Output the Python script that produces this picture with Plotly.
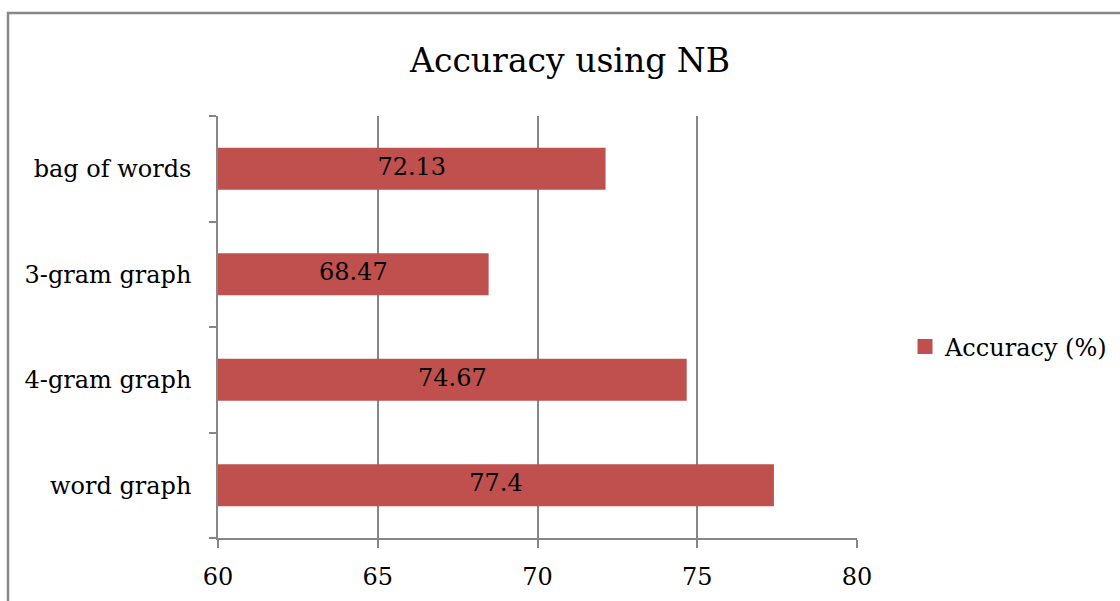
import plotly.graph_objects as go

categories = ["word graph", "4-gram graph", "3-gram graph", "bag of words"]
accuracy = [77.4, 74.67, 68.47, 72.13]
accuracy_labels = ["77.4", "74.67", "68.47", "72.13"]
x_ticks = [60, 65, 70, 75, 80]
x_min, x_max = 60, 80

W, H = 1120, 601
L, R, T, B = 218, 263, 116, 63
pw, ph = W - L - R, H - T - B

def px(x):
    return (x - L) / pw

def py(y):
    return (H - B - y) / ph

FONT = "DejaVu Serif"
GRAY = "#878787"
RED = "#C0504D"
FS = 24

fig = go.Figure()
fig.add_trace(go.Bar(
    y=categories, x=accuracy, orientation="h",
    name="Accuracy (%)", showlegend=False,
    marker=dict(color=RED, line=dict(width=0)),
    hoverinfo="x+y",
))
# value labels centred on the visible part of each bar
fig.add_trace(go.Scatter(
    y=categories, x=[(x_min + v) / 2 for v in accuracy],
    mode="text", text=accuracy_labels, showlegend=False,
    textfont=dict(family=FONT, size=FS, color="black"),
    hoverinfo="skip",
))
# legend entry with a square swatch
fig.add_trace(go.Scatter(
    x=[None], y=[None], mode="markers", name="Accuracy (%)",
    marker=dict(symbol="square", size=15, color=RED),
))

fig.update_layout(
    width=W, height=H,
    margin=dict(l=L, r=R, t=T, b=B, autoexpand=False),
    paper_bgcolor="white", plot_bgcolor="white",
    bargap=0.6,
    title=dict(text="Accuracy using NB", x=570 / W, xanchor="center",
               y=1 - 60 / H, yanchor="middle",
               font=dict(family=FONT, size=33, color="black")),
    font=dict(family=FONT, size=FS, color="black"),
    showlegend=True,
    legend=dict(x=px(905), y=py(347), xanchor="left", yanchor="middle",
                font=dict(family=FONT, size=FS, color="black"),
                itemwidth=30, bgcolor="rgba(0,0,0,0)"),
    xaxis=dict(range=[x_min, x_max], tickvals=x_ticks, showgrid=True, gridcolor=GRAY,
               gridwidth=1.5, showline=True, linecolor=GRAY, linewidth=1.5,
               ticks="outside", ticklen=8, tickcolor=GRAY, tickwidth=1.5,
               ticklabelstandoff=8, zeroline=False,
               tickfont=dict(family=FONT, size=FS, color="black")),
    yaxis=dict(showline=True, linecolor=GRAY, linewidth=1.5, showgrid=False,
               ticks="outside", tickson="boundaries", ticklen=7, tickcolor=GRAY,
               tickwidth=1.5, ticklabelstandoff=20,
               categoryorder="array", categoryarray=categories,
               tickfont=dict(family=FONT, size=FS, color="black")),
    shapes=[dict(type="path", xref="paper", yref="paper",
                 path=f"M {px(8)} {py(620)} L {px(8)} {py(13)} L {px(1130)} {py(13)}",
                 line=dict(color=GRAY, width=2.5), layer="above")],
)

fig.write_html("out.html",
               config={"displayModeBar": False},
               post_script="document.body.style.margin='0';document.body.style.overflow='hidden';")
